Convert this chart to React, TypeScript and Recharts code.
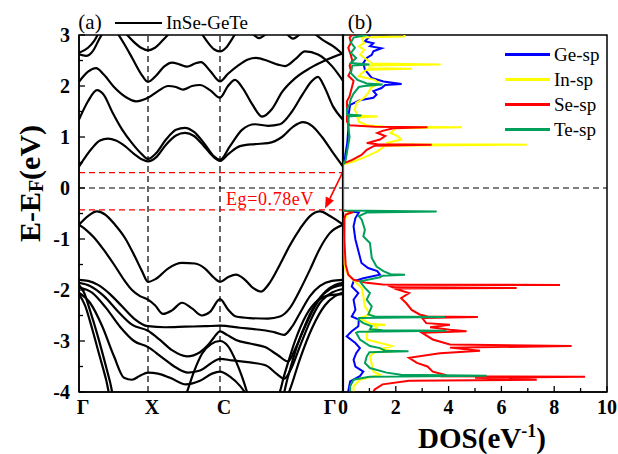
import React from 'react';
import { LineChart, Line, XAxis, YAxis, ReferenceLine, ReferenceArea, ReferenceDot, Legend } from 'recharts';

const FONT = '"Liberation Serif", "Times New Roman", serif';

// ---------- k-path (path length units) ----------
const kPoints = [0, 0.69, 1.41, 2.64];
const kLabels = ['Γ', 'X', 'C', 'Γ'];
const energyTicks = [-4, -3.5, -3, -2.5, -2, -1.5, -1, -0.5, 0, 0.5, 1, 1.5, 2, 2.5, 3];
const dosTicks = [0, 1, 2, 3, 4, 5, 6, 7, 8, 9, 10];
const cbmLevel = 0.3;
const vbmLevel = -0.43;
const gapLabel = 'Eg=0.78eV';

// ---------- band structure: [k, E(eV)] ----------
const bandC1: [number, number][] = [[0, 0.42], [0.13, 0.78], [0.21, 0.93], [0.29, 0.97], [0.37, 0.93], [0.46, 0.82], [0.55, 0.67], [0.63, 0.56], [0.69, 0.52], [0.77, 0.6], [0.87, 0.85], [0.97, 1.03], [1.06, 1.08], [1.15, 1.02], [1.25, 0.82], [1.35, 0.6], [1.41, 0.53], [1.49, 0.66], [1.61, 0.82], [1.76, 0.86], [1.89, 0.88], [2.03, 1.0], [2.14, 1.2], [2.24, 1.29], [2.33, 1.22], [2.43, 1.0], [2.53, 0.72], [2.64, 0.42]];
const bandC2: [number, number][] = [[0, 1.34], [0.09, 1.7], [0.18, 1.92], [0.25, 1.82], [0.33, 1.5], [0.43, 1.15], [0.53, 0.88], [0.63, 0.66], [0.69, 0.57], [0.77, 0.68], [0.87, 0.95], [0.97, 1.14], [1.06, 1.18], [1.15, 1.1], [1.25, 0.88], [1.35, 0.62], [1.41, 0.55], [1.51, 0.82], [1.63, 1.14], [1.76, 1.25], [1.89, 1.22], [2.01, 1.25], [2.13, 1.5], [2.24, 1.85], [2.33, 2.1], [2.39, 2.18], [2.45, 2.0], [2.54, 1.6], [2.64, 1.34]];
const bandC3: [number, number][] = [[0, 2.08], [0.09, 2.28], [0.17, 2.35], [0.25, 2.22], [0.35, 1.98], [0.47, 1.78], [0.57, 1.7], [0.69, 1.77], [0.79, 1.9], [0.89, 2.0], [0.97, 1.98], [1.04, 1.93], [1.13, 2.0], [1.21, 2.02], [1.31, 1.92], [1.41, 1.77], [1.49, 2.0], [1.56, 2.12], [1.64, 1.95], [1.73, 1.65], [1.83, 1.4], [1.93, 1.55], [2.03, 1.88], [2.16, 2.15], [2.31, 2.35], [2.46, 2.5], [2.64, 2.64]];
const bandC4: [number, number][] = [[0.38, 3.05], [0.46, 2.8], [0.54, 2.52], [0.62, 2.24], [0.69, 2.08], [0.77, 2.2], [0.85, 2.38], [0.93, 2.46], [1.01, 2.42], [1.08, 2.38], [1.16, 2.44], [1.22, 2.47], [1.31, 2.3], [1.41, 2.09], [1.49, 2.24], [1.59, 2.4], [1.69, 2.52], [1.77, 2.55], [1.89, 2.49], [1.99, 2.42], [2.06, 2.39], [2.16, 2.52], [2.26, 2.68], [2.39, 2.62], [2.53, 2.39], [2.64, 2.1]];
const bandT1: [number, number][] = [[0, 2.65], [0.09, 2.75], [0.15, 2.88], [0.2, 3.05]];
const bandT2: [number, number][] = [[0, 2.62], [0.07, 2.59], [0.14, 2.69], [0.2, 2.91], [0.24, 3.05]];
const bandTX: [number, number][] = [[0.46, 3.05], [0.54, 2.88], [0.62, 2.75], [0.69, 2.7], [0.76, 2.75], [0.84, 2.9], [0.91, 3.05]];
const bandTC: [number, number][] = [[1.22, 3.05], [1.29, 2.85], [1.35, 2.72], [1.41, 2.68], [1.47, 2.75], [1.53, 2.92], [1.57, 3.05]];
const bandD1: [number, number][] = [[1.74, 3.02], [1.8, 2.94], [1.87, 3.02]];
const bandD2: [number, number][] = [[2.08, 3.02], [2.14, 2.93], [2.21, 3.02]];
const bandD3: [number, number][] = [[2.34, 3.05], [2.44, 2.9], [2.54, 2.78], [2.64, 2.62]];
const bandV1: [number, number][] = [[0, -0.72], [0.09, -0.55], [0.18, -0.46], [0.26, -0.52], [0.36, -0.72], [0.46, -0.98], [0.56, -1.35], [0.63, -1.63], [0.69, -1.84], [0.77, -1.78], [0.89, -1.58], [1.03, -1.47], [1.16, -1.48], [1.26, -1.58], [1.35, -1.76], [1.41, -1.84], [1.49, -1.75], [1.57, -1.7], [1.66, -1.8], [1.74, -1.96], [1.82, -2.03], [1.91, -1.85], [2.01, -1.5], [2.11, -1.12], [2.21, -0.8], [2.31, -0.55], [2.41, -0.46], [2.51, -0.55], [2.64, -0.72]];
const bandV2: [number, number][] = [[0, -0.72], [0.07, -0.82], [0.15, -0.97], [0.25, -1.22], [0.35, -1.5], [0.45, -1.8], [0.53, -2.0], [0.61, -2.12], [0.69, -2.19], [0.76, -2.3], [0.84, -2.47], [0.93, -2.4], [1.03, -2.25], [1.13, -2.36], [1.23, -2.5], [1.31, -2.43], [1.41, -2.18], [1.49, -2.38], [1.57, -2.52], [1.71, -2.55], [1.89, -2.56], [2.01, -2.52], [2.11, -2.35], [2.21, -2.0], [2.31, -1.6], [2.41, -1.18], [2.51, -0.88], [2.64, -0.72]];
const bandV3: [number, number][] = [[0, -1.8], [0.09, -1.82], [0.19, -1.9], [0.31, -2.08], [0.43, -2.32], [0.55, -2.56], [0.69, -2.71], [0.86, -2.73], [1.06, -2.72], [1.26, -2.71], [1.41, -2.7], [1.61, -2.74], [1.81, -2.78], [1.96, -2.83], [2.05, -2.88], [2.13, -2.72], [2.21, -2.45], [2.31, -2.12], [2.41, -1.92], [2.53, -1.82], [2.64, -1.8]];
const bandV4: [number, number][] = [[0, -1.86], [0.11, -1.92], [0.25, -2.12], [0.39, -2.42], [0.53, -2.68], [0.69, -2.8], [0.81, -2.98], [0.93, -3.18], [1.08, -3.3], [1.21, -3.22], [1.29, -3.08], [1.35, -2.93], [1.41, -2.81], [1.48, -2.88], [1.57, -2.98], [1.71, -3.05], [1.86, -3.12], [1.99, -3.28], [2.09, -3.4], [2.17, -3.12], [2.26, -2.72], [2.36, -2.32], [2.47, -2.02], [2.56, -1.9], [2.64, -1.86]];
const bandV5: [number, number][] = [[0, -1.95], [0.13, -2.05], [0.27, -2.35], [0.41, -2.72], [0.55, -3.0], [0.69, -3.12], [0.83, -3.32], [0.97, -3.52], [1.09, -3.62], [1.21, -3.58], [1.31, -3.45], [1.41, -3.35], [1.53, -3.38], [1.71, -3.42], [1.87, -3.48], [1.98, -3.65], [2.05, -3.74], [2.12, -3.55], [2.21, -3.1], [2.31, -2.62], [2.41, -2.25], [2.53, -2.05], [2.64, -1.98]];
const bandV6: [number, number][] = [[0, -2.05], [0.11, -2.25], [0.23, -2.7], [0.35, -3.3], [0.45, -3.72], [0.53, -3.76], [0.61, -3.68], [0.69, -3.62], [0.79, -3.64], [0.91, -3.72], [1.07, -3.85], [1.21, -3.78], [1.33, -3.64], [1.41, -3.6], [1.51, -3.7], [1.61, -3.88], [1.71, -4.15], [1.86, -4.6], [2.01, -4.4], [2.11, -3.95], [2.21, -3.35], [2.33, -2.75], [2.46, -2.3], [2.56, -2.12], [2.64, -2.05]];
const bandV7: [number, number][] = [[1.01, -4.4], [1.08, -4.0], [1.15, -3.6], [1.23, -3.25], [1.32, -3.06], [1.41, -3.0], [1.49, -3.1], [1.57, -3.4], [1.63, -3.7], [1.68, -4.0], [1.73, -4.35]];
const bandV8: [number, number][] = [[0, -1.9], [0.05, -2.05], [0.11, -2.4], [0.18, -2.85], [0.25, -3.35], [0.31, -3.8], [0.36, -4.2], [1.21, -5.0], [2.01, -4.25], [2.09, -3.7], [2.18, -3.1], [2.28, -2.6], [2.39, -2.2], [2.51, -1.98], [2.64, -1.9]];
const bandV9: [number, number][] = [[0, -2.08], [0.06, -2.3], [0.13, -2.75], [0.2, -3.25], [0.27, -3.75], [0.32, -4.15], [1.21, -5.0], [1.97, -4.2], [2.06, -3.62], [2.16, -3.0], [2.27, -2.5], [2.39, -2.2], [2.51, -2.1], [2.64, -2.08]];

const bands = [bandC1, bandC2, bandC3, bandC4, bandT1, bandT2, bandTX, bandTC, bandD1, bandD2, bandD3, bandV1, bandV2, bandV3, bandV4, bandV5, bandV6, bandV7, bandV8, bandV9];

// ---------- projected DOS: [E(eV), DOS(1/eV)] ----------
const geSp: [number, number][] = [[3.0, 1.0], [2.97, 1.02], [2.88, 0.83], [2.84, 1.15], [2.78, 1.02], [2.74, 1.46], [2.68, 1.15], [2.61, 1.09], [2.55, 0.9], [2.45, 0.77], [2.32, 0.83], [2.16, 1.09], [2.09, 1.53], [2.04, 2.22], [2.02, 1.6], [1.96, 1.46], [1.9, 1.15], [1.83, 1.27], [1.77, 1.15], [1.72, 0.64], [1.63, 0.27], [1.4, 0.2], [1.14, 0.2], [0.88, 0.16], [0.62, 0.08], [0.45, 0], [-0.44, 0], [-0.48, 0.6], [-0.59, 0.47], [-0.75, 0.4], [-1.01, 0.47], [-1.27, 0.6], [-1.47, 0.7], [-1.57, 0.95], [-1.63, 1.3], [-1.7, 1.4], [-1.77, 0.77], [-1.83, 0.4], [-1.93, 0.33], [-2.06, 0.58], [-2.19, 0.4], [-2.39, 0.47], [-2.52, 0.33], [-2.58, 0.6], [-2.71, 0.58], [-2.81, 0.33], [-2.91, 0.14], [-3.04, 0.47], [-3.14, 0.64], [-3.24, 0.5], [-3.37, 0.4], [-3.5, 0.47], [-3.6, 0.77], [-3.69, 0.64], [-3.79, 0.27], [-3.98, 0.2], [-4.05, 0.2]];
const inSp: [number, number][] = [[3.0, 2.35], [2.97, 2.3], [2.95, 0.7], [2.84, 0.8], [2.78, 0.6], [2.71, 0.8], [2.61, 0.65], [2.52, 0.9], [2.44, 1.1], [2.42, 3.7], [2.4, 1.0], [2.35, 1.0], [2.34, 2.6], [2.32, 0.9], [2.25, 0.7], [2.19, 0.6], [2.12, 1.2], [2.06, 1.35], [1.96, 1.05], [1.86, 0.95], [1.77, 0.8], [1.67, 0.5], [1.53, 0.45], [1.42, 0.55], [1.4, 1.3], [1.38, 0.55], [1.3, 0.6], [1.23, 0.9], [1.2, 1.6], [1.19, 4.5], [1.17, 2.0], [1.08, 1.8], [1.01, 2.1], [0.95, 2.2], [0.89, 1.7], [0.86, 1.8], [0.85, 6.96], [0.83, 1.6], [0.72, 1.3], [0.62, 0.9], [0.52, 0.4], [0.46, 0], [-0.44, 0], [-0.47, 0.3], [-0.52, 0.15], [-0.6, 0.08], [-1.0, 0.05], [-1.5, 0.06], [-1.65, 0.12], [-1.77, 0.33], [-1.86, 0.5], [-1.96, 0.71], [-2.12, 0.77], [-2.32, 0.83], [-2.48, 1.02], [-2.55, 0.64], [-2.66, 1.02], [-2.68, 1.6], [-2.7, 1.2], [-2.75, 1.27], [-2.84, 0.9], [-2.97, 0.9], [-3.1, 1.85], [-3.16, 1.4], [-3.2, 2.0], [-3.22, 1.2], [-3.3, 1.02], [-3.46, 1.09], [-3.6, 1.15], [-3.66, 1.4], [-3.76, 0.64], [-3.89, 0.4], [-4.05, 0.4]];
const seSp: [number, number][] = [[3.0, 0.35], [2.95, 0.25], [2.85, 0.3], [2.75, 0.2], [2.6, 0.3], [2.5, 0.35], [2.4, 0.25], [2.3, 0.3], [2.2, 0.2], [2.1, 0.4], [2.0, 0.35], [1.9, 0.3], [1.8, 0.25], [1.7, 0.15], [1.5, 0.15], [1.3, 0.15], [1.23, 0.25], [1.2, 1.2], [1.19, 3.2], [1.17, 1.9], [1.12, 1.5], [1.08, 1.3], [1.02, 1.6], [0.95, 1.4], [0.88, 0.9], [0.86, 1.3], [0.85, 3.36], [0.83, 1.2], [0.75, 0.9], [0.65, 0.7], [0.55, 0.35], [0.48, 0], [-0.44, 0], [-0.47, 0.4], [-0.52, 0.1], [-0.6, 0.05], [-1.0, 0.05], [-1.5, 0.1], [-1.6, 0.15], [-1.7, 0.2], [-1.8, 0.4], [-1.86, 0.9], [-1.89, 1.5], [-1.9, 8.22], [-1.91, 1.7], [-1.95, 1.9], [-1.96, 6.58], [-1.97, 1.95], [-2.06, 2.5], [-2.16, 2.2], [-2.26, 2.4], [-2.39, 2.6], [-2.48, 2.9], [-2.52, 3.2], [-2.53, 5.11], [-2.55, 3.0], [-2.65, 3.15], [-2.68, 4.05], [-2.73, 3.3], [-2.78, 4.05], [-2.81, 4.68], [-2.84, 3.0], [-2.97, 3.4], [-3.07, 4.05], [-3.1, 8.66], [-3.13, 4.05], [-3.19, 5.19], [-3.24, 3.67], [-3.33, 2.5], [-3.43, 2.8], [-3.5, 3.2], [-3.6, 3.4], [-3.66, 3.86], [-3.69, 3.8], [-3.7, 9.17], [-3.72, 5.0], [-3.76, 7.34], [-3.78, 2.5], [-3.85, 1.5], [-3.95, 1.2], [-4.05, 1.1]];
const teSp: [number, number][] = [[3.0, 0.9], [2.97, 0.6], [2.95, 0.4], [2.85, 0.3], [2.75, 0.45], [2.65, 0.3], [2.55, 0.5], [2.45, 0.3], [2.42, 1.0], [2.4, 0.35], [2.25, 0.3], [2.12, 0.55], [2.05, 0.9], [2.03, 1.5], [2.0, 0.8], [1.98, 0.6], [1.85, 0.4], [1.75, 0.3], [1.65, 0.25], [1.55, 0.15], [1.44, 0.15], [1.42, 0.7], [1.4, 0.2], [1.2, 0.2], [1.0, 0.25], [0.85, 0.2], [0.7, 0.15], [0.55, 0.1], [0.45, 0], [-0.44, 0], [-0.46, 3.55], [-0.48, 0.9], [-0.55, 0.6], [-0.62, 0.71], [-0.82, 0.83], [-0.95, 0.77], [-1.08, 1.02], [-1.37, 1.09], [-1.54, 1.27], [-1.63, 1.53], [-1.69, 1.8], [-1.7, 2.35], [-1.72, 1.5], [-1.75, 1.4], [-1.83, 0.64], [-1.96, 0.83], [-2.06, 1.02], [-2.19, 0.9], [-2.32, 1.09], [-2.48, 0.96], [-2.52, 1.2], [-2.53, 3.86], [-2.55, 0.6], [-2.58, 0.58], [-2.65, 0.77], [-2.71, 1.09], [-2.77, 1.02], [-2.79, 1.5], [-2.8, 3.92], [-2.82, 0.6], [-2.84, 0.5], [-2.97, 0.64], [-3.1, 1.02], [-3.14, 1.4], [-3.19, 1.6], [-3.2, 2.48], [-3.22, 1.0], [-3.3, 0.9], [-3.43, 0.83], [-3.53, 1.02], [-3.62, 1.65], [-3.66, 2.2], [-3.68, 5.44], [-3.7, 1.0], [-3.76, 0.4], [-3.89, 0.27], [-4.05, 0.27]];

const dosSeries = [
  { name: 'Ge-sp', color: '#0000FF', data: geSp },
  { name: 'In-sp', color: '#FFFF00', data: inSp },
  { name: 'Se-sp', color: '#FF0000', data: seSp },
  { name: 'Te-sp', color: '#00A05A', data: teSp },
];

const toBand = (b: [number, number][]) => b.map(([k, e]) => ({ k, e }));
const toDos = (d: [number, number][]) => d.map(([e, v]) => ({ e, v }));
const fmtE = (v: number) => (v < 0 ? `-${-v}` : `${v}`);

const BandYTick = (props: any) => {
  const { x, y, payload } = props;
  const v = payload.value as number;
  const major = Number.isInteger(v);
  const ax = x + 9;
  return (
    <g>
      <line x1={ax} x2={ax + (major ? 6 : 4)} y1={y} y2={y} stroke="#000" strokeWidth={1.3} />
      {major && (
        <text x={x} y={y} dy="0.36em" textAnchor="end" fontFamily={FONT} fontWeight="bold" fontSize={20} fill="#000">
          {fmtE(v)}
        </text>
      )}
    </g>
  );
};

const BandXTick = (props: any) => {
  const { x, y, payload } = props;
  const i = kPoints.indexOf(payload.value);
  const last = i === kPoints.length - 1;
  return (
    <text x={last ? x - 6 : x + 4} y={y} dy="0.71em" textAnchor="middle" fontFamily={FONT} fontWeight="bold" fontSize={20} fill="#000">
      {kLabels[i]}
    </text>
  );
};

const DosXTick = (props: any) => {
  const { x, y, payload } = props;
  const v = payload.value as number;
  const major = v % 2 === 0;
  const ay = y - 8;
  return (
    <g>
      <line x1={x} x2={x} y1={ay} y2={ay - (major ? 6 : 4)} stroke="#000" strokeWidth={1.3} />
      {major && (
        <text x={x} y={y} dy="0.71em" textAnchor="middle" fontFamily={FONT} fontWeight="bold" fontSize={20} fill="#000">
          {v}
        </text>
      )}
    </g>
  );
};

const YLabel = (props: any) => {
  const vb = props.viewBox || {};
  const cx = (vb.x || 0) + 29;
  const cy = (vb.y || 0) + vb.height / 2 - 30;
  return (
    <text x={cx} y={cy} transform={`rotate(-90, ${cx}, ${cy})`} textAnchor="middle" dominantBaseline="central" fontFamily={FONT} fontWeight="bold" fontSize={30} fill="#000">
      E-E<tspan dy={7} fontSize={20}>F</tspan>
      <tspan dy={-7}>(eV)</tspan>
    </text>
  );
};

const DosXLabel = (props: any) => {
  const vb = props.viewBox || {};
  const cx = vb.x + vb.width / 2 + 7;
  const y = vb.y + 56;
  return (
    <text x={cx} y={y} textAnchor="middle" fontFamily={FONT} fontWeight="bold" fontSize={29} fill="#000">
      DOS(eV<tspan dy={-11} fontSize={18}>-1</tspan>
      <tspan dy={11}>)</tspan>
    </text>
  );
};

const ArrowShape = (p: any) => {
  const { x1, y1, x2, y2 } = p;
  const dx = x2 - x1;
  const dy = y2 - y1;
  const len = Math.hypot(dx, dy) || 1;
  const ux = dx / len;
  const uy = dy / len;
  const hl = 11;
  const hw = 4.5;
  const bx = x2 - ux * hl;
  const by = y2 - uy * hl;
  return (
    <g>
      <line x1={x1} y1={y1} x2={bx} y2={by} stroke="#FF0000" strokeWidth={1.6} />
      <polygon points={`${x2},${y2} ${bx - uy * hw},${by + ux * hw} ${bx + uy * hw},${by - ux * hw}`} fill="#FF0000" />
    </g>
  );
};

const BandLegend = (props: any) => {
  const items = (props.payload || []).filter((p: any) => p.type !== 'none');
  return (
    <div style={{ fontFamily: FONT, fontSize: 19, color: '#000', whiteSpace: 'nowrap' }}>
      {items.map((it: any) => (
        <div key={it.value} style={{ display: 'flex', alignItems: 'center', lineHeight: '22px' }}>
          <span style={{ display: 'inline-block', flexShrink: 0, width: 47, borderTop: '2.5px solid #000', marginRight: 4 }} />
          <span>{it.value}</span>
        </div>
      ))}
    </div>
  );
};

const DosLegend = (props: any) => {
  const items = props.payload || [];
  return (
    <div style={{ fontFamily: FONT, fontSize: 19, color: '#000', whiteSpace: 'nowrap' }}>
      {items.map((it: any) => (
        <div key={it.value} style={{ display: 'flex', alignItems: 'center', height: 25 }}>
          <span style={{ display: 'inline-block', flexShrink: 0, width: 45, borderTop: `3px solid ${it.color}`, marginRight: 4 }} />
          <span>{it.value}</span>
        </div>
      ))}
    </div>
  );
};

export default function App() {
  return (
    <div style={{ position: 'absolute', left: 0, top: 0, width: 618, height: 454, background: '#fff' }}>
      <div style={{ position: 'absolute', left: 0, top: 0 }}>
        <LineChart width={350} height={454} margin={{ top: 35, right: 7, bottom: 0, left: 0 }}>
          <XAxis
            type="number"
            dataKey="k"
            domain={[0, 2.64]}
            ticks={kPoints}
            allowDataOverflow
            height={62}
            tickSize={0}
            tickMargin={8}
            tick={<BandXTick />}
            axisLine={{ stroke: '#000', strokeWidth: 1.5 }}
          />
          <YAxis
            type="number"
            domain={[-4, 3]}
            ticks={energyTicks}
            allowDataOverflow
            width={79}
            tickSize={0}
            tickMargin={9}
            tick={<BandYTick />}
            axisLine={{ stroke: '#000', strokeWidth: 1.5 }}
            label={<YLabel />}
          />
          <ReferenceLine x={kPoints[1]} stroke="#000" strokeWidth={1.2} strokeDasharray="6 4" />
          <ReferenceLine x={kPoints[2]} stroke="#000" strokeWidth={1.2} strokeDasharray="6 4" />
          <ReferenceLine y={0} stroke="#000" strokeWidth={1.2} strokeDasharray="6 4" />
          <ReferenceLine y={cbmLevel} stroke="#FF0000" strokeWidth={1.2} strokeDasharray="6 4" />
          <ReferenceLine y={vbmLevel} stroke="#FF0000" strokeWidth={1.2} strokeDasharray="6 4" />
          {bands.map((b, i) => (
            <Line
              key={i}
              data={toBand(b)}
              dataKey="e"
              name={i === 0 ? 'InSe-GeTe' : `band${i}`}
              legendType={i === 0 ? 'line' : 'none'}
              type="monotone"
              stroke="#000"
              strokeWidth={2.2}
              dot={false}
              activeDot={false}
              isAnimationActive={false}
            />
          ))}
          <ReferenceArea x1={0} x2={2.64} y1={-4} y2={3} fill="none" stroke="#000" strokeWidth={1.5} />
          <ReferenceLine x={kPoints[3]} stroke="#000" strokeWidth={2.2} />
          <ReferenceLine segment={[{ x: 2.64, y: 0.32 }, { x: 2.46, y: -0.4 }]} stroke="#FF0000" shape={ArrowShape} />
          <ReferenceDot x={1.43} y={-0.21} r={0} fill="none" stroke="none" label={{ value: gapLabel, position: 'right', offset: 4, fill: '#FF0000', fontSize: 18, fontFamily: FONT, letterSpacing: 0.6 }} />
          <ReferenceDot x={0.11} y={3} r={0} fill="none" stroke="none" label={{ value: '(a)', position: 'top', offset: 6, fill: '#000', fontSize: 21, fontFamily: FONT }} />
          <Legend
            layout="horizontal"
            verticalAlign="middle"
            align="center"
            content={<BandLegend />}
            wrapperStyle={{ left: 115, top: 12, width: 'auto', height: 'auto' }}
          />
        </LineChart>
      </div>
      <div style={{ position: 'absolute', left: 0, top: 0 }}>
        <LineChart layout="vertical" width={618} height={454} margin={{ top: 35, right: 11, bottom: 0, left: 343 }}>
          <XAxis
            type="number"
            domain={[0, 10]}
            ticks={dosTicks}
            allowDataOverflow
            height={62}
            tickSize={0}
            tickMargin={8}
            tick={<DosXTick />}
            axisLine={{ stroke: '#000', strokeWidth: 1.5 }}
            label={<DosXLabel />}
          />
          <YAxis type="number" dataKey="e" domain={[-4, 3]} allowDataOverflow reversed hide />
          <ReferenceLine y={0} stroke="#000" strokeWidth={1.2} strokeDasharray="6 4" />
          <ReferenceArea x1={0} x2={10} y1={-4} y2={3} fill="none" stroke="#000" strokeWidth={1.5} />
          {dosSeries.map((s) => (
            <Line
              key={s.name}
              data={toDos(s.data)}
              dataKey="v"
              name={s.name}
              type="linear"
              stroke={s.color}
              strokeWidth={2}
              dot={false}
              activeDot={false}
              isAnimationActive={false}
            />
          ))}
          <ReferenceDot x={0.64} y={3} r={0} fill="none" stroke="none" label={{ value: '(b)', position: 'top', offset: 6, fill: '#000', fontSize: 21, fontFamily: FONT }} />
          <Legend
            layout="horizontal"
            verticalAlign="middle"
            align="center"
            content={<DosLegend />}
            wrapperStyle={{ left: 505, top: 42, width: 'auto', height: 'auto' }}
          />
        </LineChart>
      </div>
    </div>
  );
}
